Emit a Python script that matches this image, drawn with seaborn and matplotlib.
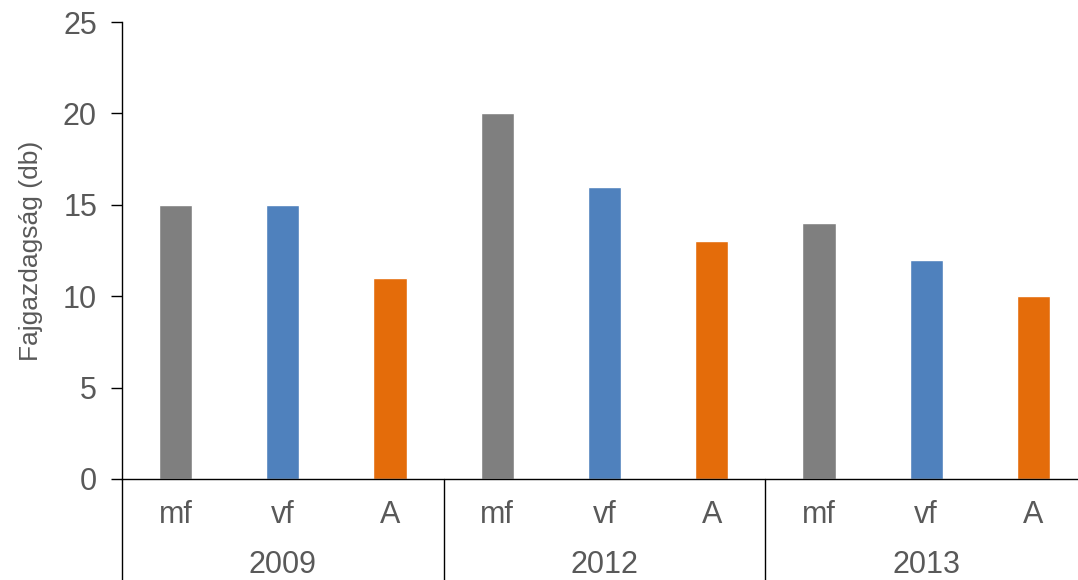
import matplotlib
matplotlib.use("Agg")
import matplotlib.pyplot as plt
import seaborn as sns
import pandas as pd

years = ["2009", "2012", "2013"]
types = ["mf", "vf", "A"]
values = [15, 15, 11, 20, 16, 13, 14, 12, 10]
colors = {"mf": "#7f7f7f", "vf": "#4f81bd", "A": "#e46c0a"}

sns.set_style("white")
plt.rcParams["font.family"] = ["Liberation Sans", "DejaVu Sans"]
txt = "#595959"

keys, tlist, ylist = [], [], []
for y in years:
    for t in types:
        keys.append(f"{y}-{t}")
        tlist.append(t)
        ylist.append(y)
df = pd.DataFrame({"key": keys, "type": tlist, "year": ylist, "val": values})

fig = plt.figure(figsize=(10.78, 5.8), dpi=100)
ax = fig.add_axes([122/1078, 101/580, 965/1078, 457/580])
sns.barplot(data=df, x="key", y="val", hue="type", palette=colors, dodge=False,
            width=0.31, legend=False, ax=ax, saturation=1)

ax.set_xlim(-0.5, 8.5)
ax.set_ylim(0, 25)
ax.set_yticks([0, 5, 10, 15, 20, 25])
ax.set_xticks(range(len(keys)))
ax.set_xticklabels(tlist)
ax.set_xlabel("")
ax.set_ylabel("Fajgazdagság (db)", fontsize=19, color=txt, labelpad=14)
ax.tick_params(axis="y", labelsize=22, labelcolor=txt, color="#000000", length=8, width=1,
               direction="out", left=True, pad=10)
ax.tick_params(axis="x", labelsize=22, labelcolor=txt, length=0, pad=15)
for s in ["top", "right"]:
    ax.spines[s].set_visible(False)
ax.spines["left"].set_color("#000000")
ax.spines["bottom"].set_color("#000000")
ax.spines["left"].set_linewidth(1)
ax.spines["bottom"].set_linewidth(1)

trans = ax.get_xaxis_transform()
for xb in [-0.5, 2.5, 5.5, 8.5]:
    ax.plot([xb, xb], [0, -0.23], transform=trans, color="#000000", lw=1, clip_on=False)
for i, y in enumerate(years):
    ax.text(i*3 + 1, -0.188, y, transform=trans, ha="center", va="center",
            fontsize=22, color=txt)

fig.savefig("out.png", dpi=100)
